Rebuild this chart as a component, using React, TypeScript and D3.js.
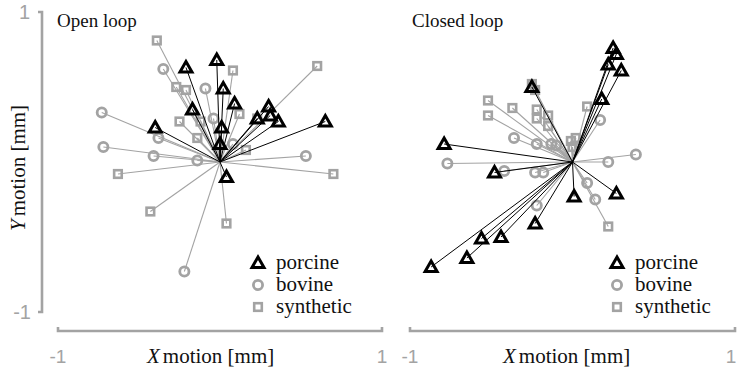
import { scaleLinear, symbol, symbolTriangle } from "d3"

// [x, y] in mm
const openPorcine: [number, number][] = [
  [-0.21, 0.63], [-0.02, 0.68], [0.02, 0.49], [-0.17, 0.35], [0.09, 0.39],
  [0.30, 0.37], [0.23, 0.29], [0.31, 0.31], [0.36, 0.27], [0.65, 0.27],
  [-0.40, 0.23], [0.01, 0.23], [0.00, 0.12], [0.04, -0.10],
]
const openBovine: [number, number][] = [
  [-0.35, 0.62], [-0.09, 0.49], [-0.04, 0.29], [-0.73, 0.33], [-0.38, 0.16],
  [-0.72, 0.10], [-0.41, 0.04], [-0.14, 0.01], [0.08, 0.12], [0.53, 0.04],
  [-0.22, -0.73],
]
const openSynthetic: [number, number][] = [
  [-0.39, 0.81], [-0.27, 0.50], [-0.21, 0.48], [0.08, 0.61], [0.60, 0.64],
  [-0.25, 0.27], [-0.14, 0.16], [-0.12, 0.27], [0.12, 0.32], [0.23, 0.29],
  [0.16, 0.08], [0.70, -0.08], [-0.63, -0.08], [-0.43, -0.33], [0.04, -0.41],
]
const closedPorcine: [number, number][] = [
  [0.25, 0.76], [0.27, 0.72], [0.22, 0.65], [0.30, 0.61], [0.18, 0.42],
  [-0.25, 0.50], [-0.79, 0.12], [-0.48, -0.07], [0.27, -0.21], [0.01, -0.23],
  [-0.23, -0.41], [-0.44, -0.50], [-0.56, -0.51], [-0.65, -0.64], [-0.87, -0.70],
]
const closedBovine: [number, number][] = [
  [0.17, 0.28], [0.39, 0.05], [0.22, 0.00], [-0.36, 0.16], [-0.22, 0.12],
  [-0.13, 0.12], [-0.10, 0.11], [-0.77, -0.01], [-0.42, -0.06], [-0.23, -0.07],
  [-0.18, -0.07], [-0.22, -0.29], [0.09, -0.14], [0.14, -0.25],
]
const closedSynthetic: [number, number][] = [
  [-0.25, 0.52], [-0.23, 0.48], [-0.52, 0.41], [-0.37, 0.36], [-0.52, 0.31],
  [-0.22, 0.35], [-0.22, 0.29], [-0.15, 0.31], [-0.15, 0.24], [0.09, 0.37],
  [-0.01, 0.14], [0.02, 0.16], [0.00, 0.10], [0.22, -0.43],
]

const legendLabels = ["porcine", "bovine", "synthetic"]
const axisTicks = [-1, 1]

const GRAY = "#a3a3a3"
const SERIF = "'Liberation Serif', 'Times New Roman', serif"
const SANS = "'Liberation Sans', Arial, sans-serif"

const triPath = symbol(symbolTriangle, 62)() as string

function Marker({ kind, x, y }: { kind: number; x: number; y: number }) {
  if (kind === 0)
    return <path d={triPath} transform={`translate(${x},${y + 1})`} fill="none" stroke="#000" strokeWidth={3} strokeLinejoin="miter" />
  if (kind === 1)
    return <circle cx={x} cy={y} r={4.6} fill="none" stroke={GRAY} strokeWidth={2.8} />
  return <rect x={x - 3.8} y={y - 3.8} width={7.6} height={7.6} fill="none" stroke={GRAY} strokeWidth={2.6} />
}

interface PanelProps {
  title: string
  x0: number
  x1: number
  porcine: [number, number][]
  bovine: [number, number][]
  synthetic: [number, number][]
  legendX: number
  titleX: number
  xTitleX: number
}

const Y_TOP = 12, Y_BOT = 312, X_AXIS_Y = 331

function Panel({ title, x0, x1, porcine, bovine, synthetic, legendX, titleX, xTitleX }: PanelProps) {
  const x = scaleLinear().domain([-1, 1]).range([x0, x1])
  const y = scaleLinear().domain([-1, 1]).range([Y_BOT, Y_TOP])
  const ox = x(0), oy = y(0)
  const series = [
    { pts: bovine, kind: 1, color: GRAY, w: 1.1 },
    { pts: synthetic, kind: 2, color: GRAY, w: 1.1 },
    { pts: porcine, kind: 0, color: "#000", w: 1 },
  ]
  return (
    <g>
      <text x={titleX} y={27} fontFamily={SERIF} fontSize={19} fill="#111">{title}</text>

      {series.map((s, si) => (
        <g key={si}>
          {s.pts.map(([px, py], i) => (
            <line key={i} x1={ox} y1={oy} x2={x(px)} y2={y(py)} stroke={s.color} strokeWidth={s.w} />
          ))}
          {s.pts.map(([px, py], i) => (
            <Marker key={i} kind={s.kind} x={x(px)} y={y(py)} />
          ))}
        </g>
      ))}

      {/* X axis */}
      <path d={`M${x(-1)},${X_AXIS_Y - 4}V${X_AXIS_Y}H${x(1)}V${X_AXIS_Y - 4}`} fill="none" stroke={GRAY} strokeWidth={2.6} />
      {axisTicks.map(t => (
        <text key={t} x={Math.min(x(t), 731)} y={363} textAnchor="middle" fontFamily={SANS} fontSize={19} fill={GRAY}>{t}</text>
      ))}
      <text x={xTitleX} y={363} fontFamily={SERIF} fontSize={21} fill="#111">
        <tspan fontStyle="italic">X</tspan>
        <tspan dx={3}>motion [mm]</tspan>
      </text>

      {/* Legend */}
      {legendLabels.map((l, i) => {
        const ly = 263 + i * 22
        return (
          <g key={l}>
            <Marker kind={i} x={legendX} y={ly} />
            <text x={legendX + 18} y={ly + 6} fontFamily={SERIF} fontSize={21} fill="#111">{l}</text>
          </g>
        )
      })}
    </g>
  )
}

export default function App() {
  const y = scaleLinear().domain([-1, 1]).range([Y_BOT, Y_TOP])
  return (
    <div style={{ position: "absolute", left: 0, top: 0 }}>
      <svg width={738} height={368} style={{ display: "block", background: "#fff" }}>
        {/* Y axis */}
        <path d={`M38,${y(1)}H42V${y(-1)}H38`} fill="none" stroke={GRAY} strokeWidth={2.6} />
        {axisTicks.map(t => (
          <text key={t} x={t < 0 ? 31 : 30} y={y(t) + 7} textAnchor="end" fontFamily={SANS} fontSize={20} fill={GRAY}>{t}</text>
        ))}
        <text transform={`translate(25,${y(0) + 6}) rotate(-90)`} textAnchor="middle" fontFamily={SERIF} fontSize={21} fill="#111">
          <tspan fontStyle="italic">Y</tspan>
          <tspan dx={3}>motion [mm]</tspan>
        </text>

        <Panel title="Open loop" x0={58} x1={382} porcine={openPorcine} bovine={openBovine} synthetic={openSynthetic}
          legendX={258} titleX={57} xTitleX={147} />
        <Panel title="Closed loop" x0={410} x1={735} porcine={closedPorcine} bovine={closedBovine} synthetic={closedSynthetic}
          legendX={617} titleX={412} xTitleX={503} />
      </svg>
    </div>
  )
}
